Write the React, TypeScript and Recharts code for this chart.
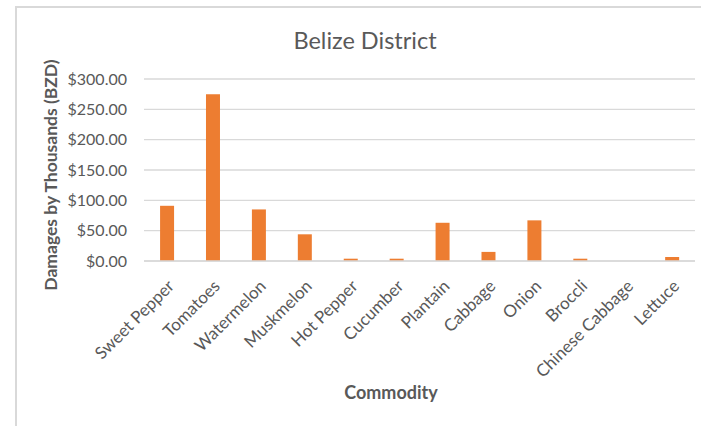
import React from "react";
import { BarChart, Bar, XAxis, YAxis, CartesianGrid } from "recharts";

const categories = [
  "Sweet Pepper",
  "Tomatoes",
  "Watermelon",
  "Muskmelon",
  "Hot Pepper",
  "Cucumber",
  "Plantain",
  "Cabbage",
  "Onion",
  "Broccli",
  "Chinese Cabbage",
  "Lettuce",
];
const damages = [91, 275, 85, 44, 3.8, 3.8, 63, 15, 67, 3.8, 0, 6.6];
const yTicks = [0, 50, 100, 150, 200, 250, 300];

const data = categories.map((name, i) => ({ name, value: damages[i] }));

const FONT = "Lato, 'Open Sans', sans-serif";
const TEXT = "#595959";
const GRID = "#d9d9d9";

const fmt = (v: number) => "$" + v.toFixed(2);

const XTick = (props: any) => {
  const { x, y, payload } = props;
  return (
    <g transform={`translate(${x + 4},${y + 14})`}>
      <text
        x={0}
        y={0}
        dy="0.35em"
        textAnchor="end"
        transform="rotate(-45)"
        fill={TEXT}
        fontSize={17}
        fontFamily={FONT}
      >
        {payload.value}
      </text>
    </g>
  );
};

export default function App() {
  return (
    <div style={{ position: "absolute", left: 0, top: 0, width: 701, height: 426, background: "#fff", overflow: "hidden" }}>
      <div
        style={{
          position: "absolute",
          left: 15,
          top: 6,
          width: 720,
          height: 440,
          borderLeft: `2px solid ${GRID}`,
          borderTop: `2px solid ${GRID}`,
          boxSizing: "border-box",
        }}
      />
      <div style={{ position: "absolute", left: 0, top: 0 }}>
        <BarChart
          width={701}
          height={426}
          data={data}
          margin={{ top: 79, right: 6, bottom: 25, left: 64 }}
          barCategoryGap="35%"
        >
          <CartesianGrid vertical={false} stroke={GRID} strokeWidth={1.3} />
          <XAxis
            dataKey="name"
            interval={0}
            height={140}
            tickLine={false}
            axisLine={{ stroke: GRID, strokeWidth: 1.3 }}
            tick={<XTick />}
          />
          <YAxis
            width={80}
            domain={[0, 300]}
            ticks={yTicks}
            tickFormatter={fmt}
            axisLine={false}
            tickLine={false}
            tickSize={6}
            tickMargin={11}
            tick={{ fill: TEXT, fontSize: 16, fontFamily: FONT }}
          />
          <Bar dataKey="value" fill="#ED7D31" isAnimationActive={false} />
          <text
            x={365}
            y={40}
            textAnchor="middle"
            dominantBaseline="central"
            fill={TEXT}
            fontSize={23.5}
            fontFamily={FONT}
          >
            Belize District
          </text>
          <text
            x={391}
            y={392}
            textAnchor="middle"
            dominantBaseline="central"
            fill={TEXT}
            fontSize={18}
            fontWeight="bold"
            fontFamily={FONT}
          >
            Commodity
          </text>
          <text
            x={50}
            y={175}
            textAnchor="middle"
            dominantBaseline="central"
            transform="rotate(-90 50 175)"
            fill={TEXT}
            fontSize={17.5}
            fontWeight="bold"
            fontFamily={FONT}
          >
            Damages by Thousands (BZD)
          </text>
        </BarChart>
      </div>
    </div>
  );
}
